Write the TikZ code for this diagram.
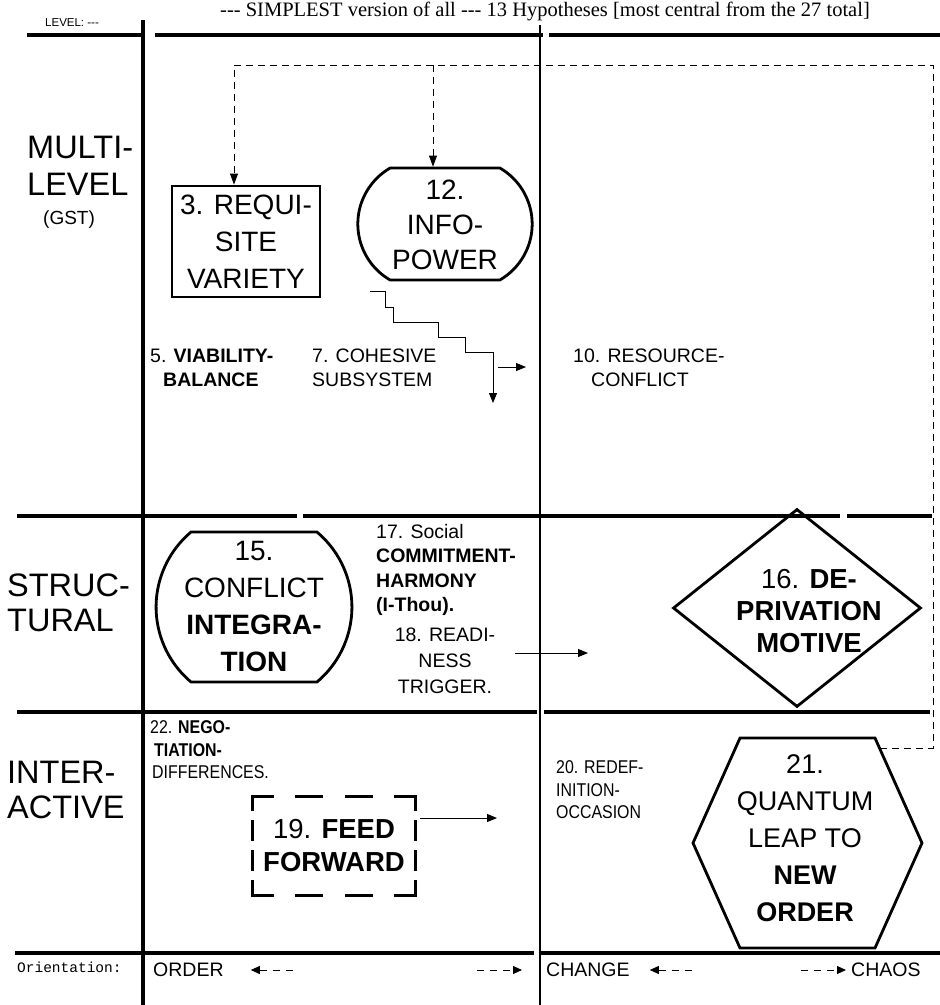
\documentclass[tikz,border=0pt]{standalone}
\usepackage{fontspec}
\setmainfont{Liberation Sans}
\newfontfamily\titlefont{Liberation Serif}
\newfontfamily\orientfont{Liberation Mono}
\newfontfamily\narrowfont[FakeStretch=0.86]{Liberation Sans}
\usetikzlibrary{arrows.meta, calc, shapes.misc, shapes.geometric}

\begin{document}
\begin{tikzpicture}[x=1pt, y=-1pt,
    divider/.style={line width=4.8pt},
    boxline/.style={line width=2.8pt},
    flow/.style={line width=0.9pt, -{Triangle[length=10pt, width=8pt]}},
    feedback/.style={line width=0.8pt, dash pattern=on 7pt off 5pt, -{Triangle[length=11pt, width=8pt]}},
    orientdash/.style={line width=0.9pt, dash pattern=on 7pt off 6pt},
    levellabel/.style={font=\fontsize{32.5}{34.5}\selectfont, align=left, anchor=west, inner sep=0pt},
    hyptext/.style={font=\fontsize{19.5}{23.5}\selectfont, inner sep=0pt},
    smalltext/.style={font=\narrowfont\fontsize{18.5}{22.5}\selectfont, inner sep=0pt},
    bigtext/.style={font=\fontsize{28}{37}\selectfont, align=center, inner sep=0pt},
    ordertext/.style={font=\fontsize{19.5}{22}\selectfont, anchor=west, inner sep=0pt}
  ]

    % Define page size
    \useasboundingbox (0,0) rectangle (940,1005);

    % Define column positions
    \def\levelCol{143}
    \def\changeCol{540}

    % Title and corner label
    \node[font=\titlefont\fontsize{20.5}{24}\selectfont, anchor=base] (title) at (545,16) {{-}{-}{-} SIMPLEST version of all {-}{-}{-} 13 Hypotheses [most central from the 27 total]};
    \node[font=\fontsize{11.5}{13}\selectfont, anchor=west, inner sep=0pt] (levelhead) at (45,23) {LEVEL: {-}{-}{-}};

    % Draw level dividers (start, end, height)
    \foreach \xa/\xb/\yy in {27/143/35, 155/543/35, 549/940/35, 17/297/516, 303/840/516, 847/932/516, 17/537/712, 544/930/712, 15/534/953, 540/940/953}
        \draw[divider] (\xa,\yy) -- (\xb,\yy);

    % Draw the level column and the order/change split
    \draw[line width=4pt] (\levelCol,20) -- (\levelCol,1005);
    \draw[line width=1.1pt] (\changeCol,25) -- (\changeCol,1005);

    % Level names
    \node[levellabel, font=\fontsize{32.5}{36.5}\selectfont] (multi) at (27,166) {MULTI-\\LEVEL};
    \node[font=\fontsize{19}{22}\selectfont, anchor=west, inner sep=0pt] (gst) at (43,220) {(GST)};
    \node[levellabel] (structural) at (7,603) {STRUC-\\TURAL};
    \node[levellabel] (interactive) at (7,790) {INTER-\\ACTIVE};

    % Multi-level hypotheses
    \node[draw, boxline, minimum width=148pt, minimum height=111pt, bigtext] (requisite) at (246,241.5) {3. REQUI-\\SITE\\VARIETY};
    \node[draw, boxline, rounded rectangle, rounded rectangle arc length=120, minimum width=181pt, minimum height=112pt] (infoshape) at (445,224) {};
    \node[bigtext, font=\fontsize{28}{35}\selectfont] (infopower) at (445,225) {12.\\INFO-\\POWER};

    \node[hyptext, anchor=west, align=left] (viability) at (150,368) {5. \textbf{VIABILITY-}\\\hspace*{13pt}\textbf{BALANCE}};
    \node[hyptext, anchor=west, align=left] (cohesive) at (312,368) {7. COHESIVE\\SUBSYSTEM};
    \node[hyptext, anchor=west, align=left] (resource) at (573,368) {10. RESOURCE-\\\hspace*{18pt}CONFLICT};

    % Staircase down to the cohesive subsystem
    \coordinate (stairstart) at (370,291);
    \coordinate (stairend) at (493,403);
    \draw[flow] (stairstart) -| ++(15,16) -| ++(8,15) -| ++(45,15) -| ++(27,15) -| (stairend);
    \coordinate (smallfrom) at (498,367);
    \coordinate (smallto) at (526,367);
    \draw[flow] (smallfrom) -- (smallto);

    % Structural hypotheses
    \node[draw, boxline, rounded rectangle, rounded rectangle arc length=100, minimum width=165pt, minimum height=150pt] (conflictshape) at (254,607) {};
    \node[bigtext] (conflict) at (254,606) {15.\\CONFLICT\\\textbf{INTEGRA-}\\\textbf{TION}};

    \node[hyptext, font=\fontsize{19.5}{24.5}\selectfont, anchor=west, align=left] (commitment) at (376,570) {17. Social\\\textbf{COMMITMENT-}\\\textbf{HARMONY}\\\textbf{(I-Thou).}};
    \node[hyptext, font=\fontsize{19.5}{26}\selectfont, align=center] (readiness) at (445,661) {18. READI-\\NESS\\TRIGGER.};
    \coordinate (readyfrom) at (515,653);
    \coordinate (readyto) at (588,653);
    \draw[flow] (readyfrom) -- (readyto);

    \node[draw, boxline, diamond, minimum width=248pt, minimum height=198pt, inner sep=0pt] (diamondshape) at (797,608) {};
    \node[font=\fontsize{27.5}{32}\selectfont, align=center, inner sep=0pt] (deprivation) at (809,611) {16. \textbf{DE-}\\\textbf{PRIVATION}\\\textbf{MOTIVE}};

    % Interactive hypotheses
    \node[smalltext, anchor=west, align=left] (negotiation) at (150,750) {22. \textbf{NEGO-}\\\hspace*{4pt}\textbf{TIATION-}\\\hspace*{2pt}DIFFERENCES.};

    \node[minimum width=163pt, minimum height=98pt, inner sep=0pt] (feedbox) at (334,846) {};
    \node[font=\fontsize{27.5}{33}\selectfont, align=center, inner sep=0pt] (feedforward) at (feedbox) {19. \textbf{FEED}\\\textbf{FORWARD}};
    \draw[boxline, line cap=rect, dash pattern=on 20pt off 24pt on 25pt off 25pt on 25pt off 24pt on 20pt off 60pt] (feedbox.north west) -- (feedbox.north east);
    \draw[boxline, line cap=rect, dash pattern=on 20pt off 24pt on 25pt off 25pt on 25pt off 24pt on 20pt off 60pt] (feedbox.south west) -- (feedbox.south east);
    \draw[boxline, line cap=rect, dash pattern=on 13pt off 12pt on 18pt off 12pt on 18pt off 12pt on 13pt off 60pt] (feedbox.north west) -- (feedbox.south west);
    \draw[boxline, line cap=rect, dash pattern=on 13pt off 12pt on 18pt off 12pt on 18pt off 12pt on 13pt off 60pt] (feedbox.north east) -- (feedbox.south east);
    \coordinate (feedfrom) at (420,818);
    \coordinate (feedto) at (497,818);
    \draw[flow] (feedfrom) -- (feedto);

    \node[smalltext, anchor=west, align=left] (redefinition) at (556,790) {20. REDEF-\\INITION-\\OCCASION};

    \coordinate (hexcentre) at (807,843);
    \node[font=\fontsize{27}{37}\selectfont, align=center, inner sep=0pt] (quantum) at (805,838) {21.\\QUANTUM\\LEAP TO\\\textbf{NEW}\\\textbf{ORDER}};
    \draw[boxline] ($(hexcentre)+(-114,0)$) -- ($(hexcentre)+(-67,-105)$) -- ($(hexcentre)+(68,-105)$) -- ($(hexcentre)+(115,0)$) -- ($(hexcentre)+(68,105)$) -- ($(hexcentre)+(-67,105)$) -- cycle;

    % Feedback loop from the quantum leap back to the top
    \coordinate (fbstart) at ($(hexcentre)+(73,-95)$);
    \coordinate (fbcorner) at (933,65);
    \coordinate (fbbranch) at (433,65);
    \draw[feedback] (fbstart) -| (fbcorner) -| ([xshift=-12pt]requisite.north);
    \draw[feedback] (fbbranch) -- ([xshift=-12pt]infoshape.north);

    % Orientation row
    \node[font=\orientfont\fontsize{14.5}{16}\selectfont, anchor=west, inner sep=0pt] (orientation) at (17,967) {Orientation:};
    \node[ordertext] (order) at (153,970) {ORDER};
    \node[ordertext] (change) at (546,970) {CHANGE};
    \node[ordertext] (chaos) at (851,970) {CHAOS};
    \draw[orientdash, {Triangle[length=9pt, width=8pt]}-] ([xshift=27pt]order.east) -- ++(45,0);
    \draw[orientdash, -{Triangle[length=9pt, width=8pt]}] ([xshift=-69pt]change.west) -- ([xshift=-24pt]change.west);
    \draw[orientdash, {Triangle[length=9pt, width=8pt]}-] ([xshift=20pt]change.east) -- ++(45,0);
    \draw[orientdash, -{Triangle[length=9pt, width=8pt]}] ([xshift=-50pt]chaos.west) -- ([xshift=-5pt]chaos.west);

\end{tikzpicture}
\end{document}
